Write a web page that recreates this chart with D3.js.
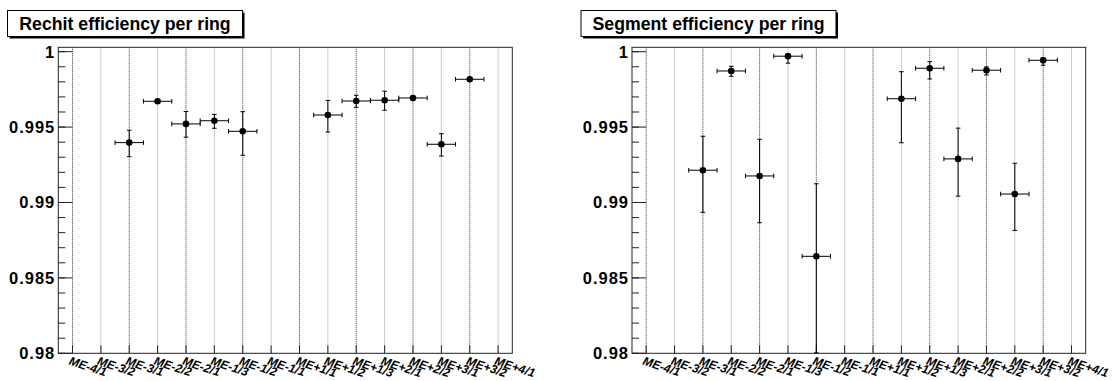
<!DOCTYPE html>
<html>
<head>
<meta charset="utf-8">
<script src="https://cdn.jsdelivr.net/npm/d3@7"></script>
<style>
  body { margin: 0; background: #fff; }
  svg { display: block; }
  text { font-family: "Liberation Sans", Arial, Helvetica, sans-serif; }
</style>
</head>
<body>
<div id="chart"></div>
<script>
// Anillos (bins) del eje x
const rings = ["ME-4/1", "ME-3/2", "ME-3/1", "ME-2/2", "ME-2/1", "ME-1/3", "ME-1/2", "ME-1/1",
               "ME+1/1", "ME+1/2", "ME+1/3", "ME+2/1", "ME+2/2", "ME+3/1", "ME+3/2", "ME+4/1"];

// Eficiencia de rechits por anillo (null = sin punto)
const rechitEff     = [null, null, 0.99397, 0.99671, 0.99521, 0.99542, 0.99472, null,
                       null, 0.99580, 0.99673, 0.99678, 0.99693, 0.99386, 0.99817, null];
const rechitErrLow  = [0, 0, 0.00093, 0.00012, 0.00088, 0.00050, 0.00159, 0,
                       0, 0.00113, 0.00042, 0.00066, 0.00012, 0.00078, 0.00008, 0];
const rechitErrHigh = [0, 0, 0.00082, 0.00010, 0.00082, 0.00042, 0.00130, 0,
                       0, 0.00097, 0.00038, 0.00060, 0.00010, 0.00070, 0.00005, 0];

// Eficiencia de segmentos por anillo
const segmentEff     = [null, null, 0.99214, 0.99872, 0.99176, 0.99970, 0.98643, null,
                        null, 0.99688, 0.99890, 0.99289, 0.99877, 0.99056, 0.99943, null];
const segmentErrLow  = [0, 0, 0.00279, 0.00035, 0.00310, 0.00046, 0.00640, 0,
                        0, 0.00292, 0.00071, 0.00247, 0.00031, 0.00241, 0.00033, 0];
const segmentErrHigh = [0, 0, 0.00225, 0.00031, 0.00243, 0.00017, 0.00481, 0,
                        0, 0.00179, 0.00044, 0.00204, 0.00022, 0.00204, 0.00015, 0];

// Ticks del eje y
const yMajorTicks = [0.98, 0.985, 0.99, 0.995, 1];
const yTickLabels = ["0.98", "0.985", "0.99", "0.995", "1"];
const yMinorStep = 0.001;
const yDomain = [0.98, 1.00029];

const W = 1113, H = 381;
const svg = d3.select("#chart").append("svg")
  .attr("width", W)
  .attr("height", H);

const frameTop = 47.3, frameBottom = 353.3;

function drawPanel(opts) {
  const x = d3.scaleLinear().domain([0, rings.length]).range([opts.x0, opts.x1]);
  const y = d3.scaleLinear().domain(yDomain).range([frameBottom, frameTop]);
  const g = svg.append("g");
  const cx = i => x(i + 0.5);

  // Líneas de rejilla punteadas
  g.selectAll(".grid")
    .data(rings)
    .enter()
    .append("line")
    .attr("x1", (d, i) => cx(i))
    .attr("x2", (d, i) => cx(i))
    .attr("y1", frameTop)
    .attr("y2", frameBottom)
    .attr("stroke", (d, i) => i % 2 ? "#999" : "#333")
    .attr("stroke-width", 1)
    .attr("stroke-dasharray", "1,1");

  // Ticks del eje x
  g.selectAll(".xtick")
    .data(rings)
    .enter()
    .append("line")
    .attr("x1", (d, i) => cx(i))
    .attr("x2", (d, i) => cx(i))
    .attr("y1", frameBottom)
    .attr("y2", frameBottom - 8)
    .attr("stroke", "#222");

  // Ticks menores y mayores del eje y
  const minor = d3.range(yDomain[0], yDomain[1] + 1e-9, yMinorStep);
  g.selectAll(".yminor")
    .data(minor)
    .enter()
    .append("line")
    .attr("x1", opts.x0)
    .attr("x2", opts.x0 + 7)
    .attr("y1", d => y(d))
    .attr("y2", d => y(d))
    .attr("stroke", "#222");

  g.selectAll(".ymajor")
    .data(yMajorTicks)
    .enter()
    .append("line")
    .attr("x1", opts.x0)
    .attr("x2", opts.x0 + 14)
    .attr("y1", d => y(d))
    .attr("y2", d => y(d))
    .attr("stroke", "#222");

  g.selectAll(".ylabel")
    .data(yMajorTicks)
    .enter()
    .append("text")
    .attr("x", opts.x0 - 3)
    .attr("y", d => y(d))
    .attr("dy", "0.36em")
    .attr("text-anchor", "end")
    .style("font-size", "16.5px")
    .style("font-weight", "bold")
    .style("letter-spacing", "1px")
    .text((d, i) => yTickLabels[i]);

  // Etiquetas inclinadas del eje x
  g.selectAll(".xlabel")
    .data(rings)
    .enter()
    .append("text")
    .attr("transform", (d, i) => `translate(${cx(i) - 1.5},${frameBottom + 2.5}) rotate(18)`)
    .attr("y", 9)
    .style("font-size", "12px")
    .style("font-weight", "bold")
    .style("font-style", "italic")
    .text(d => d);

  // Marco
  g.append("rect")
    .attr("x", opts.x0)
    .attr("y", frameTop)
    .attr("width", opts.x1 - opts.x0)
    .attr("height", frameBottom - frameTop)
    .attr("fill", "none")
    .attr("stroke", "#222")
    .attr("stroke-width", 1);

  // Puntos con barras de error
  const pts = opts.values.map((v, i) => ({i, v, lo: opts.errLow[i], hi: opts.errHigh[i]}))
    .filter(d => d.v !== null);
  const half = (x(1) - x(0)) / 2;
  const cap = 2.3;

  const pg = g.selectAll(".pt")
    .data(pts)
    .enter()
    .append("g")
    .attr("stroke", "#000")
    .attr("stroke-width", 1);

  // barra horizontal
  pg.append("line")
    .attr("x1", d => cx(d.i) - half)
    .attr("x2", d => cx(d.i) + half)
    .attr("y1", d => y(d.v))
    .attr("y2", d => y(d.v));
  pg.append("line")
    .attr("x1", d => cx(d.i) - half)
    .attr("x2", d => cx(d.i) - half)
    .attr("y1", d => y(d.v) - cap)
    .attr("y2", d => y(d.v) + cap);
  pg.append("line")
    .attr("x1", d => cx(d.i) + half)
    .attr("x2", d => cx(d.i) + half)
    .attr("y1", d => y(d.v) - cap)
    .attr("y2", d => y(d.v) + cap);

  // barra vertical
  pg.append("line")
    .attr("x1", d => cx(d.i))
    .attr("x2", d => cx(d.i))
    .attr("y1", d => y(d.v + d.hi))
    .attr("y2", d => y(d.v - d.lo));
  pg.append("line")
    .attr("x1", d => cx(d.i) - cap)
    .attr("x2", d => cx(d.i) + cap)
    .attr("y1", d => y(d.v + d.hi))
    .attr("y2", d => y(d.v + d.hi));
  pg.append("line")
    .attr("x1", d => cx(d.i) - cap)
    .attr("x2", d => cx(d.i) + cap)
    .attr("y1", d => y(d.v - d.lo))
    .attr("y2", d => y(d.v - d.lo));

  pg.append("circle")
    .attr("cx", d => cx(d.i))
    .attr("cy", d => y(d.v))
    .attr("r", 3.3)
    .attr("fill", "#000")
    .attr("stroke", "none");

  // Caja del título con sombra
  const tb = opts.titleBox;
  g.append("rect")
    .attr("x", tb.x + 2).attr("y", tb.y + 2)
    .attr("width", tb.w).attr("height", tb.h)
    .attr("fill", "#000");
  g.append("rect")
    .attr("x", tb.x).attr("y", tb.y)
    .attr("width", tb.w).attr("height", tb.h)
    .attr("fill", "#fff")
    .attr("stroke", "#000")
    .attr("stroke-width", 1);
  g.append("text")
    .attr("x", tb.x + tb.w / 2)
    .attr("y", tb.y + tb.h / 2)
    .attr("dy", "0.36em")
    .attr("text-anchor", "middle")
    .style("font-size", "17.7px")
    .style("font-weight", "bold")
    .text(opts.title);
}

drawPanel({
  x0: 58.3, x1: 512.3,
  values: rechitEff, errLow: rechitErrLow, errHigh: rechitErrHigh,
  title: "Rechit efficiency per ring",
  titleBox: {x: 7.5, y: 10.5, w: 235, h: 26}
});

drawPanel({
  x0: 632, x1: 1085.7,
  values: segmentEff, errLow: segmentErrLow, errHigh: segmentErrHigh,
  title: "Segment efficiency per ring",
  titleBox: {x: 581, y: 10.5, w: 255, h: 26}
});
</script>
</body>
</html>
